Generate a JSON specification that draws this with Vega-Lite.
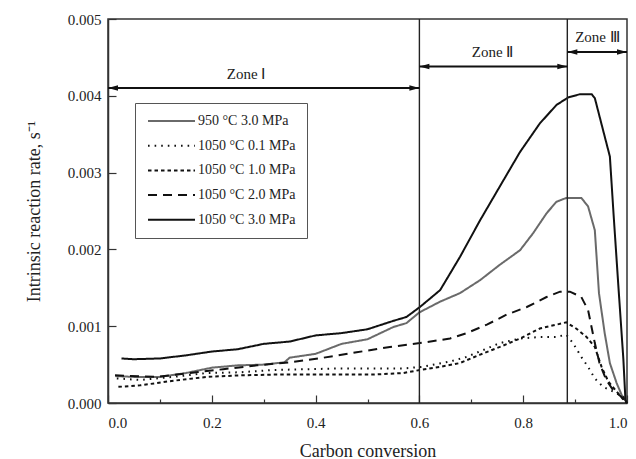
{
  "$schema": "https://vega.github.io/schema/vega-lite/v6.json",
  "autosize": {"type": "none"},
  "padding": {"left": 108, "top": 19, "right": 9, "bottom": 56},
  "width": 519,
  "height": 384,
  "background": "white",
  "config": {
    "view": {"stroke": "#333", "strokeWidth": 1.5},
    "font": "Liberation Serif",
    "style": {
      "guide-label": {"font": "Liberation Serif", "fill": "#222"},
      "guide-title": {"font": "Liberation Serif", "fill": "#222", "fontWeight": "normal"}
    },
    "axis": {"labelFont": "Liberation Serif", "titleFont": "Liberation Serif", "labelColor": "#222", "titleColor": "#222", "domainColor": "#333", "domainWidth": 1.5, "tickColor": "#333", "tickWidth": 1.2, "grid": false, "titleFontWeight": "normal"},
    "legend": {"labelFont": "Liberation Serif"}
  },
  "datasets": {
    "curves": [
      {"s":"950 °C 3.0 MPa","x":0.014,"y":0.00035},{"s":"950 °C 3.0 MPa","x":0.05,"y":0.00034},{"s":"950 °C 3.0 MPa","x":0.1,"y":0.00034},{"s":"950 °C 3.0 MPa","x":0.15,"y":0.00039},{"s":"950 °C 3.0 MPa","x":0.2,"y":0.00046},{"s":"950 °C 3.0 MPa","x":0.25,"y":0.00049},{"s":"950 °C 3.0 MPa","x":0.3,"y":0.0005},{"s":"950 °C 3.0 MPa","x":0.34,"y":0.00053},{"s":"950 °C 3.0 MPa","x":0.35,"y":0.00059},{"s":"950 °C 3.0 MPa","x":0.4,"y":0.00064},{"s":"950 °C 3.0 MPa","x":0.45,"y":0.00077},{"s":"950 °C 3.0 MPa","x":0.5,"y":0.00083},{"s":"950 °C 3.0 MPa","x":0.55,"y":0.00099},{"s":"950 °C 3.0 MPa","x":0.575,"y":0.00104},{"s":"950 °C 3.0 MPa","x":0.6,"y":0.00118},{"s":"950 °C 3.0 MPa","x":0.64,"y":0.00132},{"s":"950 °C 3.0 MPa","x":0.678,"y":0.00143},{"s":"950 °C 3.0 MPa","x":0.717,"y":0.0016},{"s":"950 °C 3.0 MPa","x":0.755,"y":0.0018},{"s":"950 °C 3.0 MPa","x":0.794,"y":0.00199},{"s":"950 °C 3.0 MPa","x":0.819,"y":0.00221},{"s":"950 °C 3.0 MPa","x":0.845,"y":0.00247},{"s":"950 °C 3.0 MPa","x":0.864,"y":0.00262},{"s":"950 °C 3.0 MPa","x":0.883,"y":0.00267},{"s":"950 °C 3.0 MPa","x":0.912,"y":0.00267},{"s":"950 °C 3.0 MPa","x":0.925,"y":0.00256},{"s":"950 °C 3.0 MPa","x":0.938,"y":0.00225},{"s":"950 °C 3.0 MPa","x":0.946,"y":0.00143},{"s":"950 °C 3.0 MPa","x":0.957,"y":0.00091},{"s":"950 °C 3.0 MPa","x":0.967,"y":0.00052},{"s":"950 °C 3.0 MPa","x":0.98,"y":0.00026},{"s":"950 °C 3.0 MPa","x":0.99,"y":0.0001},{"s":"950 °C 3.0 MPa","x":1.0,"y":0},

      {"s":"1050 °C 0.1 MPa","x":0.017,"y":0.00032},{"s":"1050 °C 0.1 MPa","x":0.062,"y":0.0003},{"s":"1050 °C 0.1 MPa","x":0.126,"y":0.00034},{"s":"1050 °C 0.1 MPa","x":0.19,"y":0.00039},{"s":"1050 °C 0.1 MPa","x":0.254,"y":0.0004},{"s":"1050 °C 0.1 MPa","x":0.319,"y":0.00043},{"s":"1050 °C 0.1 MPa","x":0.383,"y":0.00044},{"s":"1050 °C 0.1 MPa","x":0.447,"y":0.00045},{"s":"1050 °C 0.1 MPa","x":0.511,"y":0.00045},{"s":"1050 °C 0.1 MPa","x":0.569,"y":0.00045},{"s":"1050 °C 0.1 MPa","x":0.604,"y":0.00047},{"s":"1050 °C 0.1 MPa","x":0.659,"y":0.00054},{"s":"1050 °C 0.1 MPa","x":0.691,"y":0.0006},{"s":"1050 °C 0.1 MPa","x":0.723,"y":0.00069},{"s":"1050 °C 0.1 MPa","x":0.755,"y":0.00078},{"s":"1050 °C 0.1 MPa","x":0.794,"y":0.00084},{"s":"1050 °C 0.1 MPa","x":0.832,"y":0.00086},{"s":"1050 °C 0.1 MPa","x":0.864,"y":0.00086},{"s":"1050 °C 0.1 MPa","x":0.883,"y":0.00089},{"s":"1050 °C 0.1 MPa","x":0.896,"y":0.00078},{"s":"1050 °C 0.1 MPa","x":0.912,"y":0.0006},{"s":"1050 °C 0.1 MPa","x":0.925,"y":0.00047},{"s":"1050 °C 0.1 MPa","x":0.938,"y":0.00032},{"s":"1050 °C 0.1 MPa","x":0.954,"y":0.00021},{"s":"1050 °C 0.1 MPa","x":0.973,"y":0.00015},{"s":"1050 °C 0.1 MPa","x":0.993,"y":0.00008},{"s":"1050 °C 0.1 MPa","x":1.0,"y":0},

      {"s":"1050 °C 1.0 MPa","x":0.02,"y":0.00021},{"s":"1050 °C 1.0 MPa","x":0.062,"y":0.00023},{"s":"1050 °C 1.0 MPa","x":0.126,"y":0.00029},{"s":"1050 °C 1.0 MPa","x":0.19,"y":0.00034},{"s":"1050 °C 1.0 MPa","x":0.254,"y":0.00036},{"s":"1050 °C 1.0 MPa","x":0.319,"y":0.00037},{"s":"1050 °C 1.0 MPa","x":0.383,"y":0.00037},{"s":"1050 °C 1.0 MPa","x":0.447,"y":0.00037},{"s":"1050 °C 1.0 MPa","x":0.511,"y":0.00037},{"s":"1050 °C 1.0 MPa","x":0.569,"y":0.00039},{"s":"1050 °C 1.0 MPa","x":0.601,"y":0.00043},{"s":"1050 °C 1.0 MPa","x":0.64,"y":0.00047},{"s":"1050 °C 1.0 MPa","x":0.678,"y":0.00052},{"s":"1050 °C 1.0 MPa","x":0.717,"y":0.00063},{"s":"1050 °C 1.0 MPa","x":0.755,"y":0.00073},{"s":"1050 °C 1.0 MPa","x":0.794,"y":0.00084},{"s":"1050 °C 1.0 MPa","x":0.832,"y":0.00097},{"s":"1050 °C 1.0 MPa","x":0.864,"y":0.00102},{"s":"1050 °C 1.0 MPa","x":0.883,"y":0.00105},{"s":"1050 °C 1.0 MPa","x":0.902,"y":0.00097},{"s":"1050 °C 1.0 MPa","x":0.922,"y":0.00086},{"s":"1050 °C 1.0 MPa","x":0.938,"y":0.00073},{"s":"1050 °C 1.0 MPa","x":0.951,"y":0.00047},{"s":"1050 °C 1.0 MPa","x":0.964,"y":0.00028},{"s":"1050 °C 1.0 MPa","x":0.98,"y":0.00015},{"s":"1050 °C 1.0 MPa","x":0.996,"y":0.00002},{"s":"1050 °C 1.0 MPa","x":1.0,"y":0},

      {"s":"1050 °C 2.0 MPa","x":0.0135,"y":0.00036},{"s":"1050 °C 2.0 MPa","x":0.094,"y":0.00034},{"s":"1050 °C 2.0 MPa","x":0.158,"y":0.00039},{"s":"1050 °C 2.0 MPa","x":0.222,"y":0.00044},{"s":"1050 °C 2.0 MPa","x":0.287,"y":0.00049},{"s":"1050 °C 2.0 MPa","x":0.351,"y":0.00053},{"s":"1050 °C 2.0 MPa","x":0.415,"y":0.00059},{"s":"1050 °C 2.0 MPa","x":0.479,"y":0.00066},{"s":"1050 °C 2.0 MPa","x":0.543,"y":0.00073},{"s":"1050 °C 2.0 MPa","x":0.601,"y":0.00078},{"s":"1050 °C 2.0 MPa","x":0.659,"y":0.00084},{"s":"1050 °C 2.0 MPa","x":0.691,"y":0.00091},{"s":"1050 °C 2.0 MPa","x":0.73,"y":0.00102},{"s":"1050 °C 2.0 MPa","x":0.768,"y":0.00115},{"s":"1050 °C 2.0 MPa","x":0.807,"y":0.00125},{"s":"1050 °C 2.0 MPa","x":0.845,"y":0.00138},{"s":"1050 °C 2.0 MPa","x":0.871,"y":0.00145},{"s":"1050 °C 2.0 MPa","x":0.89,"y":0.00145},{"s":"1050 °C 2.0 MPa","x":0.912,"y":0.00138},{"s":"1050 °C 2.0 MPa","x":0.925,"y":0.00121},{"s":"1050 °C 2.0 MPa","x":0.938,"y":0.00078},{"s":"1050 °C 2.0 MPa","x":0.947,"y":0.00052},{"s":"1050 °C 2.0 MPa","x":0.96,"y":0.0003},{"s":"1050 °C 2.0 MPa","x":0.973,"y":0.00017},{"s":"1050 °C 2.0 MPa","x":0.993,"y":0.00006},{"s":"1050 °C 2.0 MPa","x":1.0,"y":0},

      {"s":"1050 °C 3.0 MPa","x":0.026,"y":0.00058},{"s":"1050 °C 3.0 MPa","x":0.05,"y":0.00057},{"s":"1050 °C 3.0 MPa","x":0.1,"y":0.00058},{"s":"1050 °C 3.0 MPa","x":0.15,"y":0.00062},{"s":"1050 °C 3.0 MPa","x":0.2,"y":0.00067},{"s":"1050 °C 3.0 MPa","x":0.25,"y":0.0007},{"s":"1050 °C 3.0 MPa","x":0.3,"y":0.00077},{"s":"1050 °C 3.0 MPa","x":0.35,"y":0.0008},{"s":"1050 °C 3.0 MPa","x":0.4,"y":0.00088},{"s":"1050 °C 3.0 MPa","x":0.45,"y":0.00091},{"s":"1050 °C 3.0 MPa","x":0.5,"y":0.00096},{"s":"1050 °C 3.0 MPa","x":0.55,"y":0.00107},{"s":"1050 °C 3.0 MPa","x":0.575,"y":0.00112},{"s":"1050 °C 3.0 MPa","x":0.601,"y":0.00125},{"s":"1050 °C 3.0 MPa","x":0.64,"y":0.00147},{"s":"1050 °C 3.0 MPa","x":0.678,"y":0.0019},{"s":"1050 °C 3.0 MPa","x":0.717,"y":0.00238},{"s":"1050 °C 3.0 MPa","x":0.755,"y":0.00282},{"s":"1050 °C 3.0 MPa","x":0.794,"y":0.00327},{"s":"1050 °C 3.0 MPa","x":0.832,"y":0.00364},{"s":"1050 °C 3.0 MPa","x":0.864,"y":0.00388},{"s":"1050 °C 3.0 MPa","x":0.887,"y":0.00398},{"s":"1050 °C 3.0 MPa","x":0.909,"y":0.00402},{"s":"1050 °C 3.0 MPa","x":0.932,"y":0.00402},{"s":"1050 °C 3.0 MPa","x":0.938,"y":0.00397},{"s":"1050 °C 3.0 MPa","x":0.954,"y":0.00355},{"s":"1050 °C 3.0 MPa","x":0.967,"y":0.00321},{"s":"1050 °C 3.0 MPa","x":0.974,"y":0.00247},{"s":"1050 °C 3.0 MPa","x":0.983,"y":0.00156},{"s":"1050 °C 3.0 MPa","x":0.993,"y":0.00057},{"s":"1050 °C 3.0 MPa","x":0.997,"y":0.00004},{"s":"1050 °C 3.0 MPa","x":1.0,"y":0}
    ],
    "bounds": [{"xb": 0.6}, {"xb": 0.885}],
    "zones": [
      {"zone": "Zone Ⅰ", "x1": 0, "x2": 0.6, "ya": 0.0041, "lx": 0.266, "ly": 0.00428},
      {"zone": "Zone Ⅱ", "x1": 0.6, "x2": 0.885, "ya": 0.00438, "lx": 0.741, "ly": 0.00457},
      {"zone": "Zone Ⅲ", "x1": 0.885, "x2": 1.0, "ya": 0.00457, "lx": 0.943, "ly": 0.00477}
    ]
  },
  "layer": [
    {
      "data": {"name": "curves"},
      "mark": {"type": "line", "strokeWidth": 2},
      "encoding": {
        "x": {
          "field": "x", "type": "quantitative",
          "scale": {"domain": [0, 1], "nice": false, "zero": true},
          "axis": {
            "title": "Carbon conversion", "titleFont": "Liberation Serif", "titleFontSize": 18, "titlePadding": 12,
            "values": [0, 0.1, 0.2, 0.3, 0.4, 0.5, 0.6, 0.7, 0.8, 0.9, 1.0],
            "labelExpr": "round(datum.value*10)%2==0 ? format(datum.value,'.1f') : ''",
            "labelFont": "Liberation Serif", "labelFontSize": 15, "labelPadding": 20,
            "tickSize": {"condition": {"test": "round(datum.value*10)%2==0", "value": -8}, "value": -4}
          }
        },
        "y": {
          "field": "y", "type": "quantitative",
          "scale": {"domain": [0, 0.005], "nice": false},
          "axis": {
            "title": "Intrinsic reaction rate, s⁻¹", "titleFont": "Liberation Serif", "titleFontSize": 18, "titlePadding": 24,
            "values": [0, 0.0005, 0.001, 0.0015, 0.002, 0.0025, 0.003, 0.0035, 0.004, 0.0045, 0.005],
            "labelExpr": "round(datum.value*2000)%2==0 ? format(datum.value,'.3f') : ''",
            "labelFont": "Liberation Serif", "labelFontSize": 15, "labelPadding": 15,
            "tickSize": {"condition": {"test": "round(datum.value*2000)%2==0", "value": -8}, "value": -4}
          }
        },
        "color": {
          "field": "s", "type": "nominal",
          "scale": {"domain": ["950 °C 3.0 MPa", "1050 °C 0.1 MPa", "1050 °C 1.0 MPa", "1050 °C 2.0 MPa", "1050 °C 3.0 MPa"], "range": ["#6a6a6a", "#111111", "#111111", "#111111", "#111111"]},
          "legend": {
            "title": null, "orient": "none", "legendX": 27, "legendY": 84,
            "strokeColor": "#555", "padding": 11, "fillColor": "white",
            "symbolType": "M-1,0H8.4", "symbolSize": 100, "symbolStrokeWidth": 2,
            "labelFont": "Liberation Serif", "labelFontSize": 14, "labelColor": "#222",
            "rowPadding": 10.7, "labelOffset": 38
          }
        },
        "strokeDash": {
          "field": "s", "type": "nominal",
          "scale": {"domain": ["950 °C 3.0 MPa", "1050 °C 0.1 MPa", "1050 °C 1.0 MPa", "1050 °C 2.0 MPa", "1050 °C 3.0 MPa"], "range": [[1, 0], [1.6, 5], [3.5, 3], [9, 6], [1, 0]]},
          "legend": {
            "title": null, "orient": "none", "legendX": 27, "legendY": 84,
            "strokeColor": "#555", "padding": 11, "fillColor": "white",
            "symbolType": "M-1,0H8.4", "symbolSize": 100, "symbolStrokeWidth": 2,
            "labelFont": "Liberation Serif", "labelFontSize": 14, "labelColor": "#222",
            "rowPadding": 10.7, "labelOffset": 38
          }
        }
      }
    },
    {
      "data": {"name": "bounds"},
      "mark": {"type": "rule", "color": "#222", "strokeWidth": 1.4},
      "encoding": {"x": {"field": "xb", "type": "quantitative"}}
    },
    {
      "data": {"name": "zones"},
      "mark": {"type": "rule", "color": "#111", "strokeWidth": 2},
      "encoding": {
        "x": {"field": "x1", "type": "quantitative"},
        "x2": {"field": "x2"},
        "y": {"field": "ya", "type": "quantitative"}
      }
    },
    {
      "data": {"name": "zones"},
      "mark": {"type": "point", "shape": "M0,0L2,-0.55L2,0.55Z", "filled": true, "color": "#111", "opacity": 1, "size": 100},
      "encoding": {
        "x": {"field": "x1", "type": "quantitative"},
        "y": {"field": "ya", "type": "quantitative"}
      }
    },
    {
      "data": {"name": "zones"},
      "mark": {"type": "point", "shape": "M0,0L-2,-0.55L-2,0.55Z", "filled": true, "color": "#111", "opacity": 1, "size": 100},
      "encoding": {
        "x": {"field": "x2", "type": "quantitative"},
        "y": {"field": "ya", "type": "quantitative"}
      }
    },
    {
      "data": {"name": "zones"},
      "mark": {"type": "text", "font": "Liberation Serif", "fontSize": 15, "color": "#222"},
      "encoding": {
        "x": {"field": "lx", "type": "quantitative"},
        "y": {"field": "ly", "type": "quantitative"},
        "text": {"field": "zone"}
      }
    }
  ]
}
